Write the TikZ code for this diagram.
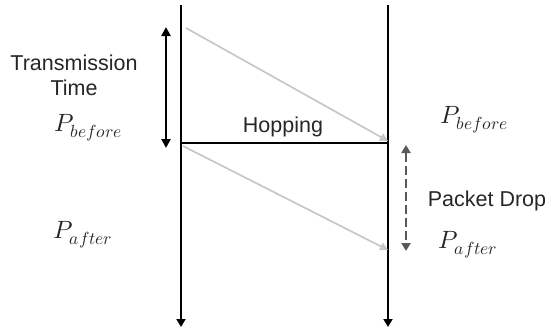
\documentclass[tikz,border=0pt]{standalone}
\usepackage{fontspec}
\usepackage{unicode-math}
\setmainfont{Liberation Sans}
\setmathfont{Latin Modern Math}
\usetikzlibrary{arrows.meta,positioning}
\begin{document}
\begin{tikzpicture}[x=1pt,y=-1pt,
    lbl/.style={font=\fontsize{21.5}{25}\selectfont, align=center, inner sep=1pt, text=black!85},
    mlbl/.style={font=\fontsize{25}{29}\selectfont, inner sep=1pt, text=black!85},
    timeline/.style={line width=1.9pt, -{Triangle[width=9pt,length=8pt]}},
    packet/.style={line width=1.7pt, color=black!22, -{Triangle[width=8pt,length=8pt]}},
    duration/.style={line width=2.8pt, {Triangle[width=9pt,length=9pt]}-{Triangle[width=9pt,length=9pt]}},
    drop/.style={line width=2.8pt, color=black!65, dash pattern=on 9pt off 4pt, {Triangle[width=9pt,length=8pt]}-{Triangle[width=9pt,length=8pt]}}]
    \useasboundingbox (0,0) rectangle (551,330);
    % sender and receiver time axes
    \coordinate (sendTop) at (181,5);
    \coordinate (sendEnd) at (181,327);
    \coordinate (recvTop) at (388,5);
    \coordinate (recvEnd) at (388,327);
    \draw[timeline] (sendTop) -- (sendEnd);
    \draw[timeline] (recvTop) -- (recvEnd);
    % hopping instant
    \coordinate (hopSend) at (181,143);
    \coordinate (hopRecv) at (388,143);
    \draw[line width=1.9pt] (hopSend) -- (hopRecv);
    % packets
    \coordinate (pktA) at (186,28);
    \coordinate (pktAend) at (388,141);
    \coordinate (pktB) at (183,146);
    \coordinate (pktBend) at (388,250);
    \draw[packet] (pktA) -- (pktAend);
    \draw[packet] (pktB) -- (pktBend);
    % transmission time and packet drop
    \coordinate (txTop) at (166,27);
    \coordinate (txBot) at (166,148);
    \draw[duration] (txTop) -- (txBot);
    \coordinate (dropTop) at (406,145);
    \coordinate (dropBot) at (406,251);
    \draw[drop] (dropTop) -- (dropBot);
    % labels
    \node[lbl] (txTime) at (74,75) {Transmission\\Time};
    \node[mlbl] (beforeL) at (88,128) {$P_{before}$};
    \node[mlbl] (afterL) at (83,235) {$P_{after}$};
    \node[lbl] (hop) at (283,127) {Hopping};
    \node[mlbl] (beforeR) at (474,120) {$P_{before}$};
    \node[lbl] (dropLbl) at (487,201) {Packet Drop};
    \node[mlbl] (afterR) at (468,245) {$P_{after}$};
\end{tikzpicture}
\end{document}
